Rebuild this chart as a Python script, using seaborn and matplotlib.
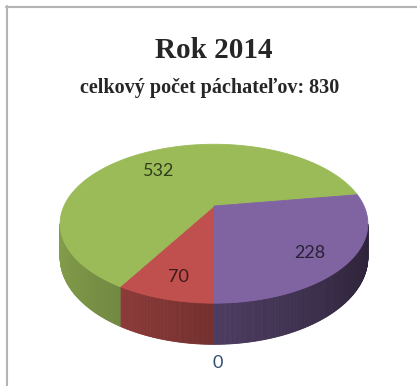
import numpy as np
import matplotlib
matplotlib.use("Agg")
import matplotlib.pyplot as plt
from matplotlib.patches import Polygon
from matplotlib.lines import Line2D
from matplotlib.colors import to_rgb
import seaborn as sns

# Number of offenders per group, in the order the slices are laid out
values = [0, 70, 532, 228]
slice_colors = ["#4F81BD", "#C0504D", "#9BBB59", "#8064A2"]
title = "Rok 2014"
subtitle = f"celkový počet páchateľov: {sum(values)}"

sns.set_style("white")
palette = sns.color_palette(slice_colors)

# 3D pie layout (pixel space of the figure)
CX, CY = 214.0, 206.0      # centre of the top face
RX, RY = 150.0, 75.5       # horizontal / vertical radii
K = 0.223                  # perspective strength (far side smaller)
DEPTH = 32.0               # thickness of the pie
START = -90.0              # first slice starts at the front, runs clockwise


def project(t, r=1.0, drop=0.0):
    u = r * np.cos(t)
    v = r * np.sin(t)
    s = 1.0 / (1.0 + K * v)
    return CX + RX * u * s, CY - RY * v * s + drop * s


fig = plt.figure(figsize=(4.17, 3.86), dpi=100)
ax = fig.add_axes([0, 0, 1, 1])
ax.set_xlim(0, 417)
ax.set_ylim(386, 0)
ax.axis("off")

total = float(sum(values))
bounds = []
a = START
for val in values:
    span = 360.0 * val / total
    bounds.append((a - span, a))
    a -= span

# side walls (only the front part is visible)
for (lo, hi), col in zip(bounds, palette):
    if hi - lo <= 0:
        continue
    rgb = np.array(to_rgb(col))
    ts = np.radians(np.linspace(lo, hi, int((hi - lo) * 2) + 2))
    for t0, t1 in zip(ts[:-1], ts[1:]):
        tm = 0.5 * (t0 + t1)
        if np.sin(tm) >= -K:
            continue
        shade = np.clip(rgb * (0.60 - 0.25 * np.cos(tm)), 0, 1)
        x0, y0 = project(t0)
        x1, y1 = project(t1)
        x2, y2 = project(t1, drop=DEPTH)
        x3, y3 = project(t0, drop=DEPTH)
        ax.add_patch(Polygon([(x0, y0), (x1, y1), (x2, y2), (x3, y3)],
                             closed=True, facecolor=shade, edgecolor=shade,
                             linewidth=0.6, zorder=1))

# top faces
for (lo, hi), col in zip(bounds, palette):
    if hi - lo <= 0:
        continue
    ts = np.radians(np.linspace(lo, hi, int((hi - lo) * 2) + 2))
    xs, ys = project(ts)
    pts = [(CX, CY)] + list(zip(xs, ys))
    ax.add_patch(Polygon(pts, closed=True, facecolor=col, edgecolor=col,
                         linewidth=0.6, zorder=2))

# value labels
for (lo, hi), col, val in zip(bounds, palette, values):
    mid = np.radians(0.5 * (lo + hi))
    dark = np.array(to_rgb(col)) * (0.33 if val > 0 else 0.6)
    if val > 0:
        x, y = project(mid, r=0.75)
        y += 6
    else:
        x, y = project(mid, drop=DEPTH)
        x += 4
        y += 19
    ax.text(x, y, f"{val}", ha="center", va="center", color=dark,
            fontsize=13, family=["Lato", "DejaVu Sans"], zorder=3)

# titles
ax.text(214, 58, title, ha="center", va="baseline", fontsize=21,
        fontweight="bold", family=["Liberation Serif", "DejaVu Serif"])
ax.text(210, 93, subtitle, ha="center", va="baseline", fontsize=14.5,
        fontweight="bold", family=["Liberation Serif", "DejaVu Serif"])

# chart frame (top and left edges)
fig.add_artist(Line2D([6 / 417, 1], [1 - 7 / 386, 1 - 7 / 386],
                      transform=fig.transFigure, color="#b4b4b4", linewidth=1.5))
fig.add_artist(Line2D([7 / 417, 7 / 417], [0, 1 - 6 / 386],
                      transform=fig.transFigure, color="#b4b4b4", linewidth=1.5))

fig.savefig("out.png", dpi=100, facecolor="white")
